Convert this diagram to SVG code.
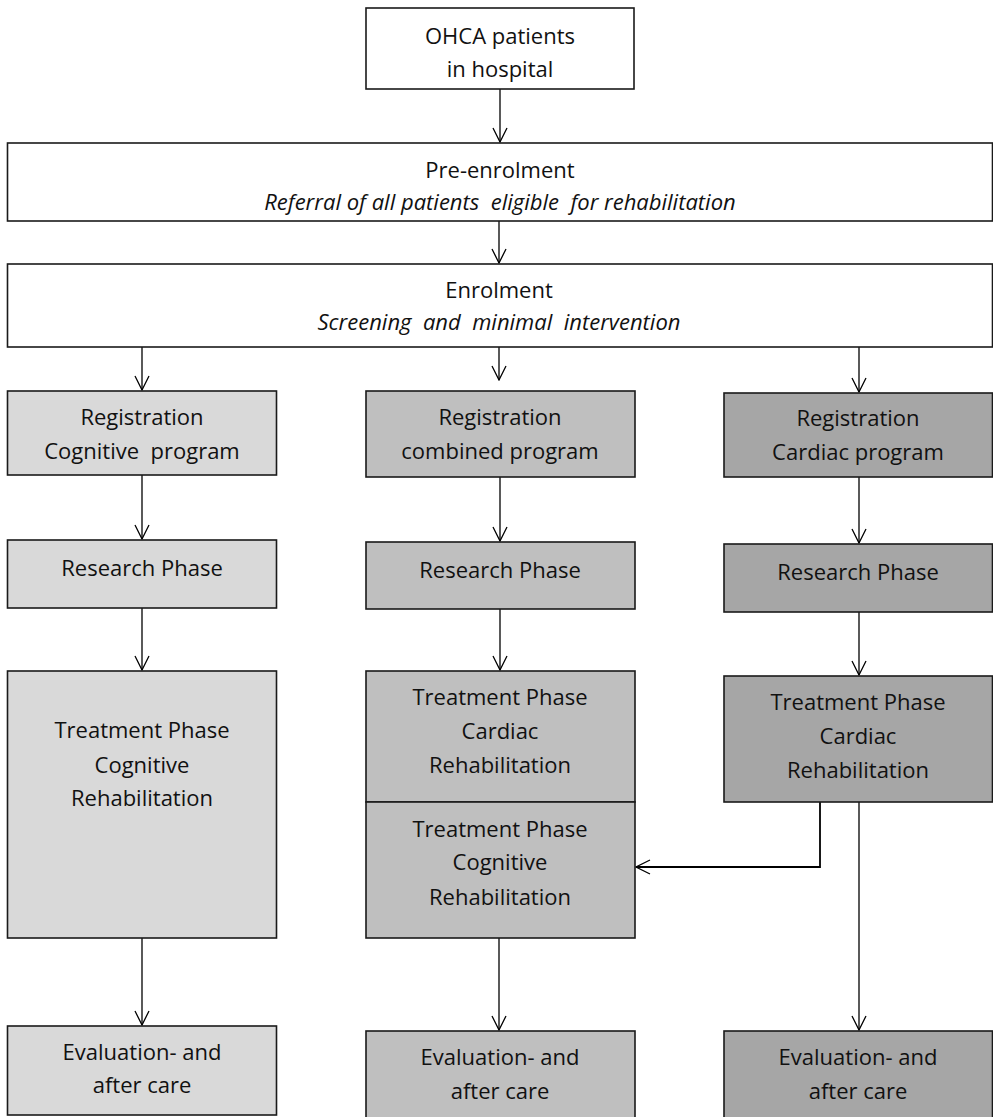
<svg xmlns="http://www.w3.org/2000/svg" width="993" height="1117" viewBox="0 0 993 1117">
<defs>
<marker id="arr" viewBox="0 0 16 16" refX="15" refY="8" markerWidth="16" markerHeight="16" markerUnits="userSpaceOnUse" orient="auto">
<path d="M1,1 L15,8 L1,15" fill="none" stroke="#000" stroke-width="1.3"/>
</marker>
</defs>
<style>
.box{stroke:#1a1a1a;stroke-width:1.6}
.w{fill:#fff}
.l{fill:#d9d9d9}
.m{fill:#bfbfbf}
.d{fill:#a6a6a6}
text{font-family:"Open Sans","Noto Sans",sans-serif;font-size:22px;fill:#111;text-anchor:middle}
.it{font-style:italic}
.c{fill:none;stroke:#000;stroke-width:1.3;marker-end:url(#arr)}
</style>
<g id="connectors">
<line class="c" x1="500" y1="89" x2="500" y2="142"/>
<line class="c" x1="499" y1="221" x2="499" y2="263"/>
<line class="c" x1="142" y1="347" x2="142" y2="390"/>
<line class="c" x1="499" y1="347" x2="499" y2="380"/>
<line class="c" x1="859" y1="347" x2="859" y2="392"/>
<line class="c" x1="142" y1="475" x2="142" y2="539"/>
<line class="c" x1="500" y1="477" x2="500" y2="541"/>
<line class="c" x1="859" y1="477" x2="859" y2="543"/>
<line class="c" x1="142" y1="608" x2="142" y2="670"/>
<line class="c" x1="500" y1="609" x2="500" y2="670"/>
<line class="c" x1="859" y1="612" x2="859" y2="675"/>
<polyline class="c" points="820,802 820,867 636,867" style="stroke-width:1.8"/>
<line class="c" x1="859" y1="802" x2="859" y2="1030"/>
<line class="c" x1="142" y1="938" x2="142" y2="1025"/>
<line class="c" x1="499" y1="938" x2="499" y2="1030"/>
</g>
<g id="ohca">
<rect class="box w" x="366" y="8" width="268" height="81"/>
<text x="500" y="44">OHCA patients</text>
<text x="500" y="77">in hospital</text>
</g>
<g id="preenrolment">
<rect class="box w" x="7.5" y="143" width="985" height="78"/>
<text x="500" y="178">Pre-enrolment</text>
<text class="it" x="500" y="210" xml:space="preserve">Referral of all patients  eligible  for rehabilitation</text>
</g>
<g id="enrolment">
<rect class="box w" x="7.5" y="264" width="985" height="83"/>
<text x="499" y="298">Enrolment</text>
<text class="it" x="499" y="330" xml:space="preserve">Screening  and  minimal  intervention</text>
</g>
<g id="reg-cog">
<rect class="box l" x="7.5" y="391" width="269" height="84"/>
<text x="142" y="425">Registration</text>
<text x="142" y="459" xml:space="preserve">Cognitive  program</text>
</g>
<g id="reg-comb">
<rect class="box m" x="366" y="391" width="269" height="86"/>
<text x="500" y="425">Registration</text>
<text x="500" y="459">combined program</text>
</g>
<g id="reg-card">
<rect class="box d" x="724" y="393" width="268.5" height="84"/>
<text x="858" y="426">Registration</text>
<text x="858" y="460">Cardiac program</text>
</g>
<g id="res-cog">
<rect class="box l" x="7.5" y="540" width="269" height="68"/>
<text x="142" y="576">Research Phase</text>
</g>
<g id="res-comb">
<rect class="box m" x="366" y="542" width="269" height="67"/>
<text x="500" y="578">Research Phase</text>
</g>
<g id="res-card">
<rect class="box d" x="724" y="544" width="268.5" height="68"/>
<text x="858" y="580">Research Phase</text>
</g>
<g id="treat-cog">
<rect class="box l" x="7.5" y="671" width="269" height="267"/>
<text x="142" y="738">Treatment Phase</text>
<text x="142" y="773">Cognitive</text>
<text x="142" y="806">Rehabilitation</text>
</g>
<g id="treat-comb-card">
<rect class="box m" x="366" y="671" width="269" height="131"/>
<text x="500" y="705">Treatment Phase</text>
<text x="500" y="739">Cardiac</text>
<text x="500" y="773">Rehabilitation</text>
</g>
<g id="treat-comb-cog">
<rect class="box m" x="366" y="802" width="269" height="136"/>
<text x="500" y="837">Treatment Phase</text>
<text x="500" y="870">Cognitive</text>
<text x="500" y="905">Rehabilitation</text>
</g>
<g id="treat-card">
<rect class="box d" x="724" y="676" width="268.5" height="126"/>
<text x="858" y="710">Treatment Phase</text>
<text x="858" y="744">Cardiac</text>
<text x="858" y="778">Rehabilitation</text>
</g>
<g id="eval-cog">
<rect class="box l" x="7.5" y="1026" width="269" height="89"/>
<text x="142" y="1060">Evaluation- and</text>
<text x="142" y="1093">after care</text>
</g>
<g id="eval-comb">
<rect class="box m" x="366" y="1031" width="269" height="92"/>
<text x="500" y="1065">Evaluation- and</text>
<text x="500" y="1099">after care</text>
</g>
<g id="eval-card">
<rect class="box d" x="724" y="1031" width="268.5" height="92"/>
<text x="858" y="1065">Evaluation- and</text>
<text x="858" y="1099">after care</text>
</g>
</svg>
